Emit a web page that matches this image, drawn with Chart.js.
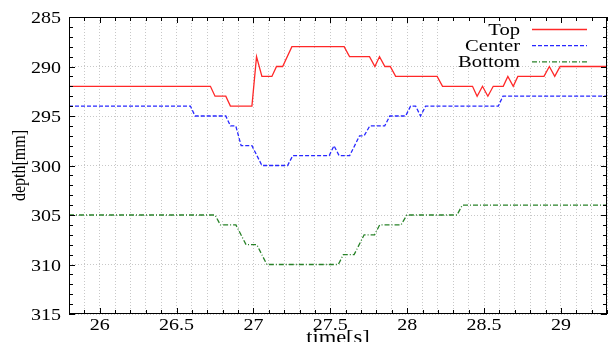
<!DOCTYPE html>
<html>
<head>
<meta charset="utf-8">
<script src="https://cdn.jsdelivr.net/npm/chart.js@4.4.0/dist/chart.umd.min.js"></script>
<style>
  body { margin: 0; background: #fff; }
  canvas { display: block; }
</style>
</head>
<body>
<canvas id="grafico" width="611" height="342"></canvas>
<script>
// Datos: tiempo [s] y profundidad [mm]
const topTime = [25.8, 26.72, 26.75, 26.82, 26.85, 26.99, 27.02, 27.055, 27.12, 27.15, 27.19, 27.25,
  27.59, 27.625, 27.755, 27.79, 27.82, 27.855, 27.89, 27.925, 28.195, 28.23, 28.425, 28.455,
  28.49, 28.525, 28.56, 28.625, 28.655, 28.69, 28.72, 28.89, 28.925, 28.96, 28.995, 29.3];
const topDepth = [292, 292, 293, 293, 294, 294, 289, 291, 291, 290, 290, 288,
  288, 289, 289, 290, 289, 290, 290, 291, 291, 292, 292, 293,
  292, 293, 292, 292, 291, 292, 291, 291, 290, 291, 290, 290];

const centerTime = [25.8, 26.59, 26.62, 26.82, 26.85, 26.885, 26.92, 26.99, 27.055, 27.222, 27.256,
  27.493, 27.524, 27.557, 27.626, 27.69, 27.72, 27.757, 27.854, 27.887, 27.99, 28.022, 28.055,
  28.087, 28.12, 28.593, 28.623, 29.3];
const centerDepth = [294, 294, 295, 295, 296, 296, 298, 298, 300, 300, 299,
  299, 298, 299, 299, 297, 297, 296, 296, 295, 295, 294, 294,
  295, 294, 294, 293, 293];

const bottomTime = [25.8, 26.75, 26.785, 26.886, 26.952, 27.022, 27.087, 27.552, 27.585, 27.655,
  27.72, 27.788, 27.821, 27.96, 27.998, 28.324, 28.359, 29.3];
const bottomDepth = [305, 305, 306, 306, 308, 308, 310, 310, 309, 309,
  307, 307, 306, 306, 305, 305, 304, 304];

const seriesNames = ['Top', 'Center', 'Bottom'];
const xMin = 25.8, xMax = 29.3;
const yMin = 285, yMax = 315;

const FUENTE = "'Liberation Serif', 'DejaVu Serif', serif";
const ESTIRA = 1.25; // el original tiene el texto algo ensanchado

function puntos(tiempos, valores) {
  return tiempos.map((t, i) => ({ x: t, y: valores[i] }));
}

// Texto ensanchado en horizontal
function texto(ctx, str, x, y, align, size) {
  ctx.save();
  ctx.translate(x, y);
  ctx.scale(ESTIRA, 1);
  ctx.font = size + 'px ' + FUENTE;
  ctx.textAlign = align;
  ctx.textBaseline = 'alphabetic';
  ctx.fillStyle = '#000';
  ctx.fillText(str, 0, 0);
  ctx.restore();
}

// Marco, marcas hacia dentro, etiquetas, títulos de ejes y leyenda
const marcoPlugin = {
  id: 'marco',
  beforeDatasetsDraw(chart) {
    const a = chart.chartArea;
    const ctx = chart.ctx;
    ctx.save();
    ctx.fillStyle = '#fff';
    ctx.fillRect(a.right - 155, a.top + 1, 152, 48);
    ctx.restore();
  },
  afterDraw(chart) {
    const { ctx, chartArea: a, scales: { x, y } } = chart;
    ctx.save();
    ctx.strokeStyle = '#000';
    ctx.lineWidth = 1;
    ctx.beginPath();
    x.ticks.forEach(t => {
      const px = Math.round(x.getPixelForValue(t.value)) + 0.5;
      const len = t.label ? 6 : 4;
      ctx.moveTo(px, a.bottom); ctx.lineTo(px, a.bottom - len);
      ctx.moveTo(px, a.top); ctx.lineTo(px, a.top + len);
    });
    y.ticks.forEach(t => {
      const py = Math.round(y.getPixelForValue(t.value)) + 0.5;
      const len = t.label ? 6 : 4;
      ctx.moveTo(a.left, py); ctx.lineTo(a.left + len, py);
      ctx.moveTo(a.right, py); ctx.lineTo(a.right - len, py);
    });
    ctx.stroke();
    ctx.strokeRect(a.left + 0.5, a.top + 0.5, a.right - a.left - 1, a.bottom - a.top - 1);

    // etiquetas de las marcas
    x.ticks.forEach(t => {
      if (t.label) texto(ctx, t.label, x.getPixelForValue(t.value), a.bottom + 15.5, 'center', 16);
    });
    y.ticks.forEach(t => {
      if (t.label) texto(ctx, t.label, a.left - 8, y.getPixelForValue(t.value) + 6, 'right', 16);
    });

    // títulos de los ejes
    texto(ctx, 'time[s]', (a.left + a.right) / 2, 342.5, 'center', 18);
    ctx.save();
    ctx.translate(20.5, (a.top + a.bottom) / 2);
    ctx.rotate(-Math.PI / 2);
    ctx.scale(1, 1.15);
    ctx.font = '16px ' + FUENTE;
    ctx.textAlign = 'center';
    ctx.textBaseline = 'middle';
    ctx.fillStyle = '#000';
    ctx.fillText('depth[mm]', 0, 0);
    ctx.restore();

    // leyenda
    chart.data.datasets.forEach((ds, i) => {
      const ly = a.top + 12 + i * 16.2;
      texto(ctx, ds.label, a.right - 87, ly + 5.5, 'right', 16.5);
      ctx.beginPath();
      ctx.strokeStyle = ds.borderColor;
      ctx.lineWidth = ds.borderWidth;
      ctx.setLineDash(ds.borderDash || []);
      ctx.moveTo(a.right - 75, ly + 0.5);
      ctx.lineTo(a.right - 20, ly + 0.5);
      ctx.stroke();
      ctx.setLineDash([]);
    });
    ctx.restore();
  }
};

const ctx = document.getElementById('grafico').getContext('2d');
const grafico = new Chart(ctx, {
  type: 'line',
  data: {
    datasets: [{
      label: seriesNames[0],
      data: puntos(topTime, topDepth),
      borderColor: 'rgb(255, 40, 40)',
      borderWidth: 1.3,
      borderDash: []
    }, {
      label: seriesNames[1],
      data: puntos(centerTime, centerDepth),
      borderColor: 'rgb(40, 40, 255)',
      borderWidth: 1.3,
      borderDash: [4, 2]
    }, {
      label: seriesNames[2],
      data: puntos(bottomTime, bottomDepth),
      borderColor: 'rgb(40, 130, 40)',
      borderWidth: 1.3,
      borderDash: [5, 2, 1, 2]
    }]
  },
  options: {
    responsive: false,
    animation: false,
    layout: { padding: { top: 17, right: 4, left: 0, bottom: 0 } },
    elements: {
      point: { radius: 0 },
      line: { tension: 0, fill: false }
    },
    plugins: {
      legend: { display: false },
      tooltip: { enabled: false }
    },
    scales: {
      x: {
        type: 'linear',
        min: xMin,
        max: xMax,
        afterFit: s => { s.height = 28; },
        ticks: {
          stepSize: 0.1,
          autoSkip: false,
          maxRotation: 0,
          display: false,
          callback: v => {
            const r = Math.round(v * 10) / 10;
            return Math.abs(r * 2 - Math.round(r * 2)) < 1e-6 ? String(r) : '';
          }
        },
        grid: { color: '#c8c8c8', drawTicks: false, lineWidth: 1 },
        border: { display: false, dash: [1, 2] }
      },
      y: {
        min: yMin,
        max: yMax,
        reverse: true,
        afterFit: s => { s.width = 69; },
        ticks: {
          stepSize: 1,
          autoSkip: false,
          display: false,
          callback: v => (v % 5 === 0 ? String(v) : '')
        },
        grid: {
          color: c => (c.tick && c.tick.value % 5 === 0 ? '#c8c8c8' : 'rgba(0,0,0,0)'),
          drawTicks: false,
          lineWidth: 1
        },
        border: { display: false, dash: [1, 2] }
      }
    }
  },
  plugins: [marcoPlugin]
});
</script>
</body>
</html>
